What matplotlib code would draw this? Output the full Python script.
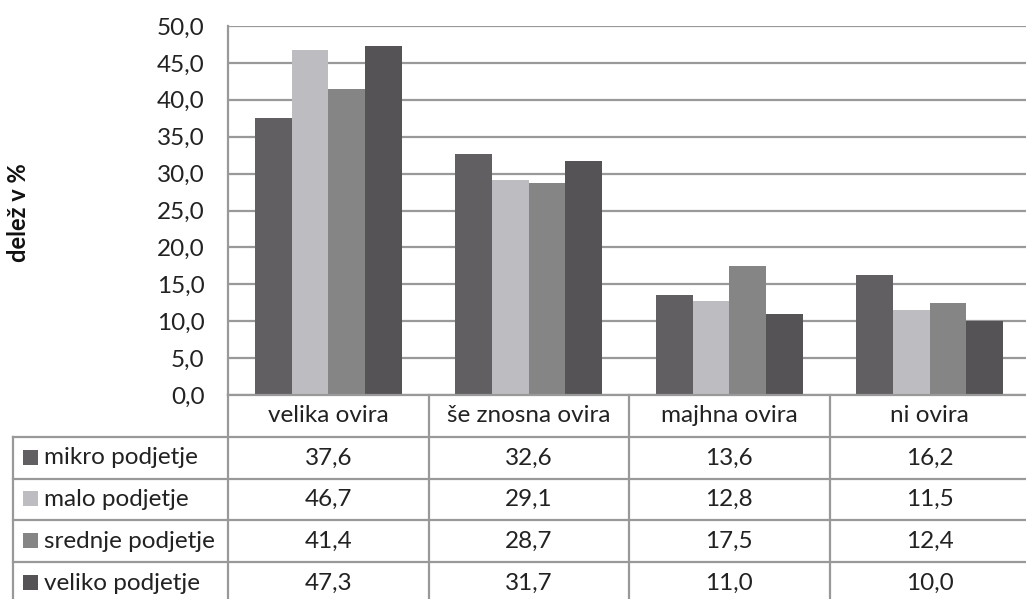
import matplotlib
matplotlib.use("Agg")
import matplotlib.pyplot as plt
import matplotlib.transforms as mtransforms
from matplotlib.lines import Line2D
from matplotlib.patches import Rectangle
import numpy as np

categories = ["velika ovira", "še znosna ovira", "majhna ovira", "ni ovira"]
series_names = ["mikro podjetje", "malo podjetje", "srednje podjetje", "veliko podjetje"]
mikro = [37.6, 32.6, 13.6, 16.2]
malo = [46.7, 29.1, 12.8, 11.5]
srednje = [41.4, 28.7, 17.5, 12.4]
veliko = [47.3, 31.7, 11.0, 10.0]
series_values = [mikro, malo, srednje, veliko]
colors = ["#625F63", "#BDBCC0", "#858585", "#555356"]
yticks = [0, 5, 10, 15, 20, 25, 30, 35, 40, 45, 50]
ylabel = "delež v %"

W, H = 1026, 599
FONT = "Lato"
FS = 17.5
TXT = "#222222"
GRID = "#999999"
LW = 1.6

fig = plt.figure(figsize=(W / 100, H / 100), dpi=100)
left_px, right_px, top_px, bottom_px = 228, 1030, 26, 395
ax = fig.add_axes([left_px / W, (H - bottom_px) / H,
                   (right_px - left_px) / W, (bottom_px - top_px) / H])

x = np.arange(len(categories))
bw = 0.183
for i, (vals, c) in enumerate(zip(series_values, colors)):
    ax.bar(x + (i - 1.5) * bw, vals, width=bw, color=c, edgecolor="none", zorder=3)

ax.set_xlim(-0.5, len(categories) - 0.5)
ax.set_ylim(0, 50)
ax.set_yticks(yticks)
ax.set_yticklabels([f"{v:.1f}".replace(".", ",") for v in yticks],
                   fontsize=FS, color=TXT, family=FONT)
ax.tick_params(axis="y", length=0, pad=17)
ax.set_xticks([])
ax.yaxis.grid(True, color=GRID, linewidth=LW, zorder=0)
for s in ["top", "right", "bottom"]:
    ax.spines[s].set_visible(False)
ax.spines["left"].set_color(GRID)
ax.spines["left"].set_linewidth(LW)

fig.text(19 / W, (H - 213) / H, ylabel, rotation=90, ha="center", va="center",
         fontsize=17, fontweight="bold", color="#111111", family=FONT)

# ---- data table below the plot ----
def fy(ypx):
    return (H - ypx) / H

def fx(xpx):
    return xpx / W

trans_xd = mtransforms.blended_transform_factory(ax.transData, fig.transFigure)
table_left = 13
row_edges = [395, 437, 479, 520, 562, 604]

def hline(ypx, x0px, x1px):
    fig.add_artist(Line2D([fx(x0px), fx(x1px)], [fy(ypx), fy(ypx)],
                          transform=fig.transFigure, color=GRID, lw=LW))

hline(row_edges[0], left_px, W + 5)
for ry in row_edges[1:]:
    hline(ry, table_left, W + 5)
fig.add_artist(Line2D([fx(table_left)] * 2, [fy(row_edges[1]), fy(row_edges[-1])],
                      transform=fig.transFigure, color=GRID, lw=LW))
for b in np.arange(len(categories) + 1) - 0.5:
    fig.add_artist(Line2D([b, b], [fy(row_edges[0]), fy(row_edges[-1])],
                          transform=trans_xd, color=GRID, lw=LW, clip_on=False))

hy = fy((row_edges[0] + row_edges[1]) / 2)
for i, cat in enumerate(categories):
    fig.add_artist(plt.Text(i, hy, cat, transform=trans_xd, ha="center", va="center",
                            fontsize=FS, color=TXT, family=FONT))

for r, (name, vals, c) in enumerate(zip(series_names, series_values, colors)):
    ry = fy((row_edges[r + 1] + row_edges[r + 2]) / 2)
    sq = 15
    fig.add_artist(Rectangle((fx(23), ry - 0.5 * sq / H + 1 / H), sq / W, sq / H,
                             transform=fig.transFigure, facecolor=c, edgecolor="none"))
    fig.text(fx(44), ry, name, ha="left", va="center", fontsize=FS, color=TXT, family=FONT)
    for i, v in enumerate(vals):
        fig.add_artist(plt.Text(i, ry, f"{v:.1f}".replace(".", ","), transform=trans_xd,
                                ha="center", va="center", fontsize=FS, color=TXT, family=FONT))

fig.savefig("out.png", dpi=100)
